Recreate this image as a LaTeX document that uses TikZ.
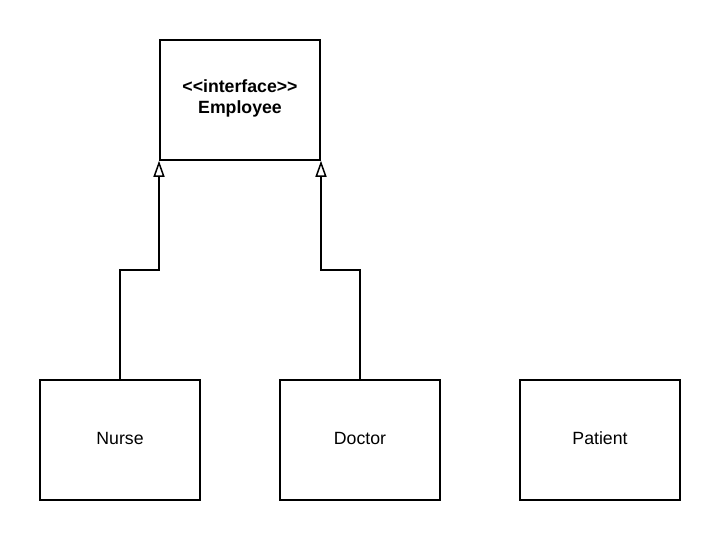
\documentclass[tikz,border=0pt]{standalone}
\usepackage{fontspec}
\setmainfont[Ligatures=NoCommon]{Liberation Sans}
\usetikzlibrary{arrows.meta}
\begin{document}
\begin{tikzpicture}[x=1pt,y=-1pt,
  cls/.style={draw=black,line width=1.5pt,minimum width=160pt,minimum height=120pt,inner sep=0pt},
  txt/.style={inner sep=0pt,font=\fontsize{17.7}{21}\selectfont,align=center},
  realize/.style={draw=black,line width=1.5pt,-{Triangle[open,length=16pt,width=11pt,line width=1.5pt]}}]
\useasboundingbox (0,0) rectangle (720,541);
\node[cls] (emp) at (240,100) {};
\node[txt] (empT) at (240,98) {\textbf{{<}{<}interface{>}{>}}\\\textbf{Employee}};
\node[cls] (nurse) at (120,440) {};
\node[txt] (nurseT) at (120,438) {Nurse};
\node[cls] (doctor) at (360,440) {};
\node[txt] (doctorT) at (360,438) {Doctor};
\node[cls] (patient) at (600,440) {};
\node[txt] (patientT) at (600,438) {Patient};
\coordinate (n1) at (120,270);
\coordinate (n2) at (159,270);
\coordinate (d1) at (360,270);
\coordinate (d2) at (321,270);
\draw[realize] (nurse.north) -- (n1) -- (n2) -- (n2 |- emp.south);
\draw[realize] (doctor.north) -- (d1) -- (d2) -- (d2 |- emp.south);
\end{tikzpicture}
\end{document}
